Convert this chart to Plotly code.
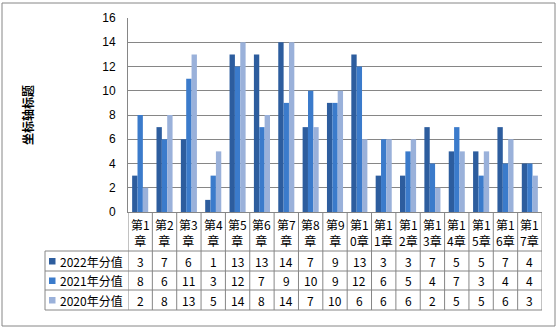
import plotly.graph_objects as go

categories = ["第1章", "第2章", "第3章", "第4章", "第5章", "第6章", "第7章", "第8章", "第9章",
              "第10章", "第11章", "第12章", "第13章", "第14章", "第15章", "第16章", "第17章"]
header_labels = ["第1<br>章", "第2<br>章", "第3<br>章", "第4<br>章", "第5<br>章", "第6<br>章", "第7<br>章",
                 "第8<br>章", "第9<br>章", "第1<br>0章", "第1<br>1章", "第1<br>2章", "第1<br>3章",
                 "第1<br>4章", "第1<br>5章", "第1<br>6章", "第1<br>7章"]
series_names = ["2022年分值", "2021年分值", "2020年分值"]
v2022 = [3, 7, 6, 1, 13, 13, 14, 7, 9, 13, 3, 3, 7, 5, 5, 7, 4]
v2021 = [8, 6, 11, 3, 12, 7, 9, 10, 9, 12, 6, 5, 4, 7, 3, 4, 4]
v2020 = [2, 8, 13, 5, 14, 8, 14, 7, 10, 6, 6, 6, 2, 5, 5, 6, 3]
series_values = [v2022, v2021, v2020]
colors = ["#2D5D9E", "#3B7BCB", "#9AB1DA"]
y_ticks = [0, 2, 4, 6, 8, 10, 12, 14, 16]
axis_title = "坐标轴标题"

W, H = 560, 331
L, R, T, B = 128, 542, 18, 212
FONT = "Noto Sans CJK SC"
GRID = "#868686"

def py(p):
    return (B - p) / (B - T)

def px(p):
    return (p - L) / (R - L)

fig = go.Figure()
for name, vals, c in zip(series_names, series_values, colors):
    fig.add_trace(go.Bar(x=categories, y=vals, name=name, marker=dict(color=c, line=dict(width=0)),
                         showlegend=False))

n = len(categories)
shapes = []
annotations = []

# outer frame
shapes.append(dict(type="rect", xref="paper", yref="paper", x0=px(2), x1=px(555), y0=py(326), y1=py(3),
                   line=dict(color=GRID, width=1), layer="below"))

# table lines
row_lines = [251, 271, 290, 310]
for r in row_lines:
    shapes.append(dict(type="line", xref="paper", yref="paper", x0=px(45), x1=px(R), y0=py(r), y1=py(r),
                       line=dict(color=GRID, width=1)))
for i in range(n + 1):
    shapes.append(dict(type="line", xref="x", yref="paper", x0=i - 0.5, x1=i - 0.5, y0=py(B), y1=py(310),
                       line=dict(color=GRID, width=1)))
shapes.append(dict(type="line", xref="paper", yref="paper", x0=px(45), x1=px(45), y0=py(251), y1=py(310),
                   line=dict(color=GRID, width=1)))

# header labels
for i, lab in enumerate(header_labels):
    annotations.append(dict(x=i, y=py(232), xref="x", yref="paper", text=lab, showarrow=False,
                            font=dict(family=FONT, size=12, color="black"), xanchor="center", yanchor="middle"))

row_centers = [261, 280.5, 300]
for k, (name, vals, c) in enumerate(zip(series_names, series_values, colors)):
    yc = row_centers[k]
    for i, v in enumerate(vals):
        annotations.append(dict(x=i, y=py(yc), xref="x", yref="paper", text=str(v), showarrow=False,
                                font=dict(family=FONT, size=12, color="black"), xanchor="center", yanchor="middle"))
    shapes.append(dict(type="rect", xref="paper", yref="paper", x0=px(49), x1=px(55.5), y0=py(yc + 3.5),
                       y1=py(yc - 3), fillcolor=c, line=dict(width=0)))
    annotations.append(dict(x=px(58), y=py(yc), xref="paper", yref="paper", text=name, showarrow=False,
                            font=dict(family=FONT, size=12, color="black"), xanchor="left", yanchor="middle"))

annotations.append(dict(x=px(27), y=py(115), xref="paper", yref="paper", text="<b>" + axis_title + "</b>",
                        showarrow=False, textangle=-90, font=dict(family=FONT, size=12, color="black"),
                        xanchor="center", yanchor="middle"))

fig.update_layout(
    width=W, height=H,
    margin=dict(l=L, r=W - R, t=T, b=H - B, pad=0),
    paper_bgcolor="white", plot_bgcolor="white",
    barmode="group", bargap=0.34, bargroupgap=0,
    shapes=shapes, annotations=annotations,
    xaxis=dict(showticklabels=False, showline=True, linecolor=GRID, showgrid=False, ticks="",
               range=[-0.5, n - 0.5], fixedrange=True),
    yaxis=dict(range=[0, 16], tickvals=y_ticks, showgrid=True, gridcolor=GRID, gridwidth=1,
               showline=True, linecolor=GRID, zeroline=False, ticks="", ticklabelstandoff=9,
               tickfont=dict(family="Liberation Sans", size=12, color="black"), fixedrange=True),
)

fig.write_html("out.html")
